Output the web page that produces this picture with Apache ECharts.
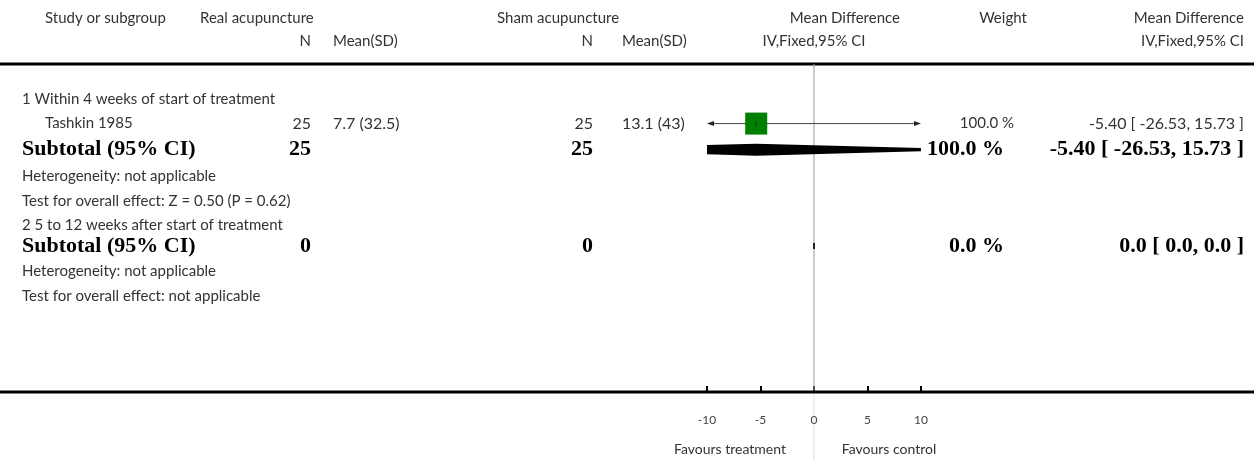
<!DOCTYPE html>
<html>
<head>
<meta charset="utf-8">
<script src="https://cdn.jsdelivr.net/npm/echarts@6/dist/echarts.min.js"></script>
<style>html,body{margin:0;padding:0;background:#fff}#c{width:1254px;height:461px}</style>
</head>
<body>
<div id="c"></div>
<script>
// ---- data ----
const rowLabels = [
  '1 Within 4 weeks of start of treatment',
  'Tashkin 1985',
  'Subtotal (95% CI)',
  'Heterogeneity: not applicable',
  'Test for overall effect: Z = 0.50 (P = 0.62)',
  '2 5 to 12 weeks after start of treatment',
  'Subtotal (95% CI)',
  'Heterogeneity: not applicable',
  'Test for overall effect: not applicable'
];
const rowKinds = ['group','study','subtotal','note','note','group','subtotal','note','note'];
// study rows
const studyRow = [1];
const studyN1 = ['25'];
const studyMean1 = ['7.7 (32.5)'];
const studyN2 = ['25'];
const studyMean2 = ['13.1 (43)'];
const studyMD = [-5.40];
const studyLo = [-26.53];
const studyHi = [15.73];
const studyWeight = ['100.0 %'];
const studyCI = ['-5.40 [ -26.53, 15.73 ]'];
// subtotal rows
const subRow = [2, 6];
const subN1 = ['25', '0'];
const subN2 = ['25', '0'];
const subMD = [-5.40, 0.0];
const subLo = [-26.53, 0.0];
const subHi = [15.73, 0.0];
const subWeight = ['100.0 %', '0.0 %'];
const subCI = ['-5.40 [ -26.53, 15.73 ]', '0.0 [ 0.0, 0.0 ]'];
// axis
const xTicks = [-10, -5, 0, 5, 10];
const xMin = -10, xMax = 10;
const favLeft = 'Favours treatment';
const favRight = 'Favours control';

// ---- layout (row positions in row units, not data) ----
const rowPos = [0, 0.98, 2.04, 3.1, 4.12, 5.1, 5.96, 6.98, 8.0];

const SANS = 'Lato, "Open Sans", sans-serif';
const SERIF = '"Liberation Serif", "DejaVu Serif", serif';
const TXT = '#333';

const chart = echarts.init(document.getElementById('c'), null, {renderer: 'canvas'});

const GRID = {left: 707, right: 1254 - 921, top: 64, bottom: 461 - 392};
const Y_MIN = -1.444, Y_MAX = 11.9;

function squareItem(params, api) {
  const y = api.value(1);
  const c = api.coord([api.value(0), y]);
  const lo = api.coord([Math.max(api.value(2), xMin), y]);
  const hi = api.coord([Math.min(api.value(3), xMax), y]);
  const children = [];
  children.push({type: 'line', shape: {x1: lo[0] + 4, y1: c[1], x2: hi[0] - 4, y2: c[1]}, style: {stroke: '#444', lineWidth: 1}});
  if (api.value(2) < xMin) children.push({type: 'polygon', shape: {points: [[lo[0], c[1]], [lo[0] + 7, c[1] - 2.5], [lo[0] + 7, c[1] + 2.5]]}, style: {fill: '#222'}});
  if (api.value(3) > xMax) children.push({type: 'polygon', shape: {points: [[hi[0], c[1]], [hi[0] - 7, c[1] - 2.5], [hi[0] - 7, c[1] + 2.5]]}, style: {fill: '#222'}});
  const s = 22;
  children.push({type: 'rect', shape: {x: c[0] - s / 2, y: c[1] - s / 2, width: s, height: s}, style: {fill: '#008000'}});
  children.push({type: 'line', shape: {x1: c[0], y1: c[1] - 2, x2: c[0], y2: c[1] + 2}, style: {stroke: '#222', lineWidth: 1}});
  return {type: 'group', children};
}

function diamondItem(params, api) {
  const y = api.value(1);
  const c = api.coord([api.value(0), y]);
  const lo = api.coord([api.value(2), y]);
  const hi = api.coord([api.value(3), y]);
  const h = 6;
  if (hi[0] - lo[0] < 1) {
    return {type: 'rect', shape: {x: c[0] - 1, y: c[1] - 3, width: 2, height: 6}, style: {fill: '#222'}};
  }
  return {type: 'polygon', shape: {points: [[lo[0], c[1]], [c[0], c[1] - h], [hi[0], c[1]], [c[0], c[1] + h]]}, style: {fill: '#000'}};
}

const option = {
  animation: false,
  grid: GRID,
  xAxis: {
    type: 'value', min: xMin, max: xMax, interval: 5, position: 'bottom',
    axisLine: {show: false, onZero: false},
    axisTick: {show: true, inside: true, length: 6, lineStyle: {color: '#000', width: 2}},
    axisLabel: {color: '#444', fontFamily: SANS, fontSize: 12, margin: 22,
      formatter: v => (xTicks.indexOf(v) >= 0 ? String(v) : '')},
    splitLine: {show: false}
  },
  yAxis: {type: 'value', inverse: true, min: Y_MIN, max: Y_MAX, show: false},
  series: [
    {
      type: 'custom', renderItem: squareItem, clip: false,
      data: studyRow.map((r, i) => [studyMD[i], rowPos[r], studyLo[i], studyHi[i]]), z: 5
    },
    {
      type: 'custom', renderItem: diamondItem, clip: true,
      data: subRow.map((r, i) => [subMD[i], rowPos[r], subLo[i], subHi[i]]), z: 5
    },
    {
      type: 'line', data: [[0, Y_MIN], [0, Y_MAX]], symbol: 'none',
      lineStyle: {color: '#999', width: 1}, z: 1, silent: true
    }
  ]
};
chart.setOption(option);

function px(x, row) { return chart.convertToPixel({gridIndex: 0}, [x, row]); }
function rowY(r) { return px(0, rowPos[r])[1]; }

const g = [];
function put(x, y, t, align, font, fill) {
  g.push({type: 'text', x, y, style: {text: t, align, verticalAlign: 'middle', fill: fill || TXT, font}});
}
function sans(x, y, t, align, size) { put(x, y, t, align, (size || 15) + 'px ' + SANS); }
function bold(x, y, t, align) { put(x, y, t, align, 'bold 22px ' + SERIF, '#000'); }

// headers
const H1 = 18, H2 = 41;
sans(45, H1, 'Study or subgroup', 'left');
sans(200, H1, 'Real acupuncture', 'left');
sans(311, H2, 'N', 'right');
sans(333, H2, 'Mean(SD)', 'left');
sans(497, H1, 'Sham acupuncture', 'left');
sans(593, H2, 'N', 'right');
sans(622, H2, 'Mean(SD)', 'left');
sans(900, H1, 'Mean Difference', 'right');
sans(814, H2, 'IV,Fixed,95% CI', 'center');
sans(1003, H1, 'Weight', 'center');
sans(1244, H1, 'Mean Difference', 'right');
sans(1244, H2, 'IV,Fixed,95% CI', 'right');

rowLabels.forEach((lab, r) => {
  const y = rowY(r);
  const k = rowKinds[r];
  if (k === 'subtotal') bold(22, y, lab, 'left');
  else if (k === 'study') sans(45, y, lab, 'left');
  else sans(22, y, lab, 'left');
});
studyRow.forEach((r, i) => {
  const y = rowY(r);
  sans(311, y, studyN1[i], 'right', 16);
  sans(333, y, studyMean1[i], 'left', 16);
  sans(593, y, studyN2[i], 'right', 16);
  sans(622, y, studyMean2[i], 'left', 16);
  sans(1014, y, studyWeight[i], 'right', 15);
  sans(1244, y, studyCI[i], 'right', 16);
});
subRow.forEach((r, i) => {
  const y = rowY(r);
  bold(311, y, subN1[i], 'right');
  bold(593, y, subN2[i], 'right');
  bold(1004, y, subWeight[i], 'right');
  bold(1244, y, subCI[i], 'right');
});

const zeroX = px(0, 0)[0];
const axisY = px(0, Y_MAX)[1];
const topY = px(0, Y_MIN)[1];
g.push({type: 'line', shape: {x1: 0, y1: topY, x2: 1254, y2: topY}, style: {stroke: '#000', lineWidth: 3}});
g.push({type: 'line', shape: {x1: 0, y1: axisY, x2: 1254, y2: axisY}, style: {stroke: '#000', lineWidth: 3}, z: 10});
g.push({type: 'line', shape: {x1: zeroX, y1: axisY, x2: zeroX, y2: 461}, style: {stroke: '#ddd', lineWidth: 1}});
sans(zeroX - 84, 449, favLeft, 'center', 14);
sans(zeroX + 75, 449, favRight, 'center', 14);

chart.setOption({graphic: {elements: g}});
</script>
</body>
</html>
